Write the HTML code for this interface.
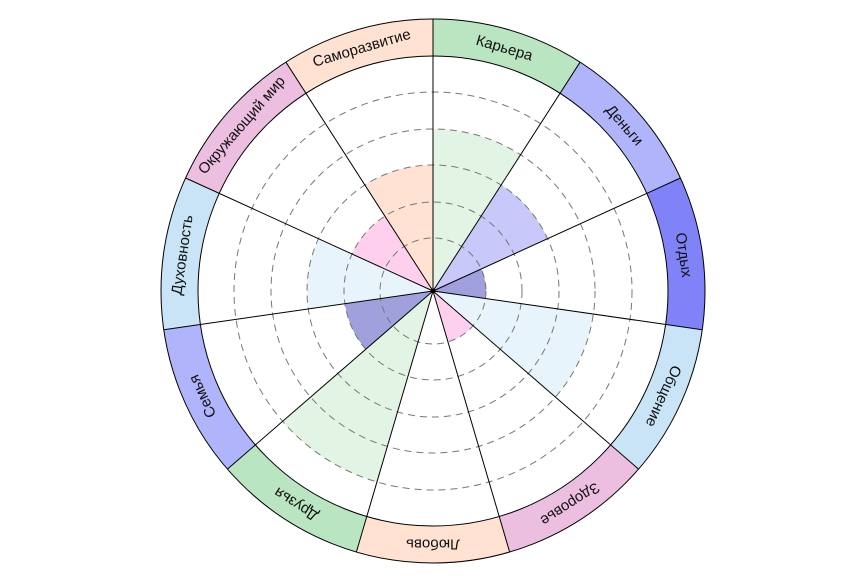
<!DOCTYPE html>
<html><head><meta charset="utf-8"><style>
html,body{margin:0;padding:0;background:#fff;width:863px;height:581px;overflow:hidden}
text{font-family:"Liberation Sans","DejaVu Sans",sans-serif;font-size:15px;fill:#111}
</style></head><body>
<svg width="863" height="581" viewBox="0 0 863 581" xmlns="http://www.w3.org/2000/svg">
<defs>
<path id="w" d="M0,0 L0,-1 A1 1 0 0 1 0.54064,-0.84125Z"/>
</defs>
<g transform="translate(433 291)">
<use href="#w" transform="rotate(0) scale(272)" fill="#b9e6c1"/>
<use href="#w" transform="rotate(32.727) scale(272)" fill="#b0b4fa"/>
<use href="#w" transform="rotate(65.455) scale(272)" fill="#8082f8"/>
<use href="#w" transform="rotate(98.182) scale(272)" fill="#c8e4f6"/>
<use href="#w" transform="rotate(130.909) scale(272)" fill="#ecbfe0"/>
<use href="#w" transform="rotate(163.636) scale(272)" fill="#ffe2d2"/>
<use href="#w" transform="rotate(196.364) scale(272)" fill="#b9e6c1"/>
<use href="#w" transform="rotate(229.091) scale(272)" fill="#b0b4fa"/>
<use href="#w" transform="rotate(261.818) scale(272)" fill="#c8e4f6"/>
<use href="#w" transform="rotate(294.545) scale(272)" fill="#ecbfe0"/>
<use href="#w" transform="rotate(327.273) scale(272)" fill="#ffe2d2"/>
<circle r="235" fill="#fff"/>
<use href="#w" transform="rotate(0) scale(162)" fill="#e2f5e4"/>
<use href="#w" transform="rotate(32.727) scale(126)" fill="#c8c8fa"/>
<use href="#w" transform="rotate(65.455) scale(53)" fill="#9fa0dc"/>
<use href="#w" transform="rotate(98.182) scale(162)" fill="#e8f4fb"/>
<use href="#w" transform="rotate(130.909) scale(53)" fill="#ffd0ee"/>
<use href="#w" transform="rotate(196.364) scale(199)" fill="#e2f5e4"/>
<use href="#w" transform="rotate(229.091) scale(89)" fill="#9fa0dc"/>
<use href="#w" transform="rotate(261.818) scale(126)" fill="#e8f4fb"/>
<use href="#w" transform="rotate(294.545) scale(89)" fill="#ffd0ee"/>
<use href="#w" transform="rotate(327.273) scale(126)" fill="#ffe2d2"/>
<g fill="none" stroke="#777" stroke-width="1" stroke-dasharray="7 5">
<circle r="53"/><circle r="89"/><circle r="126"/><circle r="162"/><circle r="199"/>
</g>
<g stroke="#000" stroke-width="1">
<line x1="0" y1="0" x2="0" y2="-272" transform="rotate(0)"/>
<line x1="0" y1="0" x2="0" y2="-272" transform="rotate(32.727)"/>
<line x1="0" y1="0" x2="0" y2="-272" transform="rotate(65.455)"/>
<line x1="0" y1="0" x2="0" y2="-272" transform="rotate(98.182)"/>
<line x1="0" y1="0" x2="0" y2="-272" transform="rotate(130.909)"/>
<line x1="0" y1="0" x2="0" y2="-272" transform="rotate(163.636)"/>
<line x1="0" y1="0" x2="0" y2="-272" transform="rotate(196.364)"/>
<line x1="0" y1="0" x2="0" y2="-272" transform="rotate(229.091)"/>
<line x1="0" y1="0" x2="0" y2="-272" transform="rotate(261.818)"/>
<line x1="0" y1="0" x2="0" y2="-272" transform="rotate(294.545)"/>
<line x1="0" y1="0" x2="0" y2="-272" transform="rotate(327.273)"/>
</g>
<circle r="235" fill="none" stroke="#000" stroke-width="1"/>
<circle r="272" fill="none" stroke="#000" stroke-width="1"/>
<circle r="2.5" fill="#000"/>
<g text-anchor="middle" dominant-baseline="central">
<text transform="rotate(16.364) translate(0,-253)">Карьера</text>
<text transform="rotate(49.091) translate(0,-253)">Деньги</text>
<text transform="rotate(81.818) translate(0,-253)">Отдых</text>
<text transform="rotate(114.545) translate(0,-253)">Общение</text>
<text transform="rotate(147.273) translate(0,-253)">Здоровье</text>
<text transform="rotate(180) translate(0,-253)">Любовь</text>
<text transform="rotate(212.727) translate(0,-253)">Друзья</text>
<text transform="rotate(245.455) translate(0,-253)">Семья</text>
<text transform="rotate(278.182) translate(0,-253)">Духовность</text>
<text transform="rotate(310.909) translate(0,-253)">Окружающий мир</text>
<text transform="rotate(343.636) translate(0,-253)">Саморазвитие</text>
</g>
</g>
</svg>
</body></html>
